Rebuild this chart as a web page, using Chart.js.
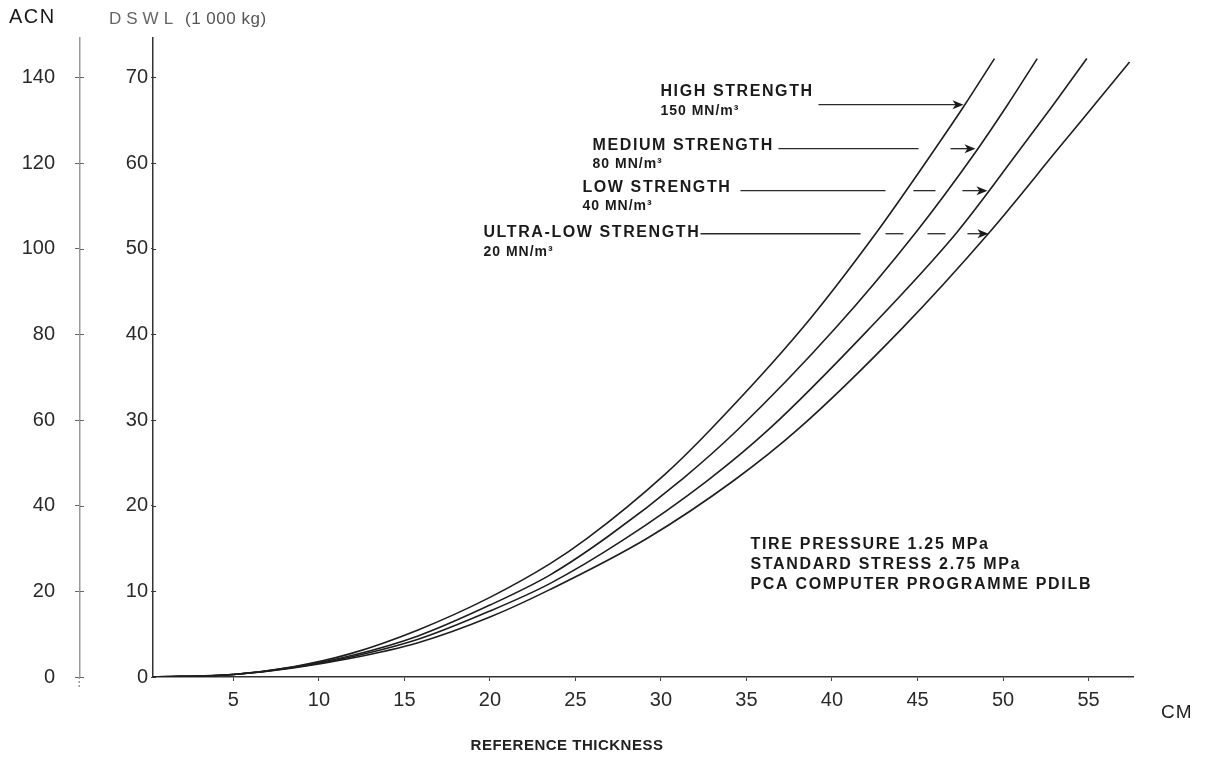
<!DOCTYPE html>
<html>
<head>
<meta charset="utf-8">
<script src="https://cdn.jsdelivr.net/npm/chart.js@4.4.1/dist/chart.umd.min.js"></script>
<style>
  html, body { margin: 0; padding: 0; background: #ffffff; }
  #wrap { width: 1217px; height: 761px; position: relative; }
</style>
</head>
<body>
<div id="wrap"><canvas id="c" width="1217" height="761"></canvas></div>
<script>
// ---- Data (reference thickness in cm, DSWL in 1 000 kg) ----
const thicknessHigh   = [0.3, 5, 8.5, 11.8, 15.8, 20, 23.5, 25.7, 30.2, 32.9, 38.3, 42.6, 45.9, 47.7, 49.5];
const dswlHigh        = [0, 0.3, 1.2, 2.7, 5.5, 9.3, 13.2, 16.2, 23.6, 28.9, 40.8, 51.9, 61.3, 66.6, 72.2];

const thicknessMedium = [0.3, 5, 8.5, 11.8, 15.8, 20, 23.5, 26.9, 31.3, 34.5, 40.1, 44.9, 48.4, 50.2, 52.0];
const dswlMedium      = [0, 0.3, 1.15, 2.45, 4.8, 8.4, 11.9, 16.4, 23.2, 28.9, 40.5, 51.9, 61.3, 66.6, 72.2];

const thicknessLow    = [0.3, 5, 8.5, 11.8, 15.8, 20, 23.5, 27.8, 32.7, 36.3, 42.1, 47.3, 51.0, 52.9, 54.9];
const dswlLow         = [0, 0.3, 1.1, 2.3, 4.4, 7.7, 10.9, 16.0, 22.9, 28.9, 40.5, 51.9, 61.6, 66.7, 72.2];

const thicknessUltra  = [0.3, 5, 8.5, 11.8, 15.8, 20, 23.5, 29.2, 34.3, 38.0, 44.0, 49.2, 53.2, 55.3, 57.4];
const dswlUltra       = [0, 0.3, 1.05, 2.15, 4.0, 7.0, 10.2, 16.2, 23.0, 28.9, 40.5, 51.9, 61.6, 66.7, 71.8];

const seriesNames = ['HIGH STRENGTH', 'MEDIUM STRENGTH', 'LOW STRENGTH', 'ULTRA-LOW STRENGTH'];
const seriesSubs  = ['150 MN/m³', '80 MN/m³', '40 MN/m³', '20 MN/m³'];

const xTicks    = [5, 10, 15, 20, 25, 30, 35, 40, 45, 50, 55];
const dswlTicks = [0, 10, 20, 30, 40, 50, 60, 70];
const acnTicks  = [0, 20, 40, 60, 80, 100, 120, 140];

const noteLines = ['TIRE PRESSURE 1.25 MPa', 'STANDARD STRESS 2.75 MPa', 'PCA COMPUTER PROGRAMME PDILB'];

// ---- helpers ----
const FONT = '"Liberation Sans", Arial, Helvetica, sans-serif';
function pts(xs, ys) { return xs.map((x, i) => ({ x: x, y: ys[i] })); }

// annotation layout (data coordinates: x in cm, row in DSWL)
const callouts = [
  { textX: 29.97, row: 66.82, dy: -13, segs: [[39.21, 47.69]] },
  { textX: 26.00, row: 61.68, dy: -3.5, segs: [[36.87, 45.06], [46.93, 48.39]] },
  { textX: 25.41, row: 56.78, dy: -3, segs: [[34.65, 43.13], [44.76, 46.05], [47.63, 49.09]] },
  { textX: 19.62, row: 51.75, dy: -1, segs: [[32.31, 41.67], [43.13, 44.18], [45.58, 46.64], [47.92, 49.15]] }
];

const decor = {
  id: 'decor',
  afterDraw(chart) {
    const ctx = chart.ctx;
    const sx = chart.scales.x, sy = chart.scales.y, sa = chart.scales.acn;
    ctx.save();
    // ACN axis: extend dotted line a little below zero, and cross ticks
    ctx.strokeStyle = '#9a9a9a';
    ctx.lineWidth = 1.5;
    ctx.setLineDash([2, 2]);
    ctx.beginPath(); ctx.moveTo(sa.right - 0.75, sa.bottom); ctx.lineTo(sa.right - 0.75, sa.bottom + 12); ctx.stroke();
    ctx.setLineDash([]);
    ctx.strokeStyle = '#666';
    ctx.lineWidth = 1;
    acnTicks.forEach(v => {
      const y = Math.round(sa.getPixelForValue(v)) + 0.5;
      ctx.beginPath(); ctx.moveTo(sa.right, y); ctx.lineTo(sa.right + 4, y); ctx.stroke();
    });
    // DSWL small inner ticks
    ctx.strokeStyle = '#333';
    dswlTicks.forEach(v => {
      const y = Math.round(sy.getPixelForValue(v)) + 0.5;
      ctx.beginPath(); ctx.moveTo(sy.right, y); ctx.lineTo(sy.right + 3, y); ctx.stroke();
    });

    // headers
    ctx.fillStyle = '#1a1a1a';
    ctx.textBaseline = 'middle';
    ctx.textAlign = 'left';
    ctx.letterSpacing = '1.5px';
    ctx.font = '20px ' + FONT;
    ctx.fillText('ACN', 9, 17);
    ctx.fillStyle = '#666';
    ctx.letterSpacing = '5px';
    ctx.font = '17px ' + FONT;
    ctx.fillText('DSWL', 109, 19);
    ctx.letterSpacing = '0.5px';
    ctx.fillStyle = '#555';
    ctx.font = '17px ' + FONT;
    ctx.fillText('(1 000 kg)', 185, 19);

    // axis unit and title
    ctx.fillStyle = '#222';
    ctx.letterSpacing = '1px';
    ctx.font = '19px ' + FONT;
    ctx.textAlign = 'left';
    ctx.fillText('CM', 1161, 713);
    ctx.font = 'bold 15px ' + FONT;
    ctx.letterSpacing = '0.5px';
    ctx.textAlign = 'center';
    ctx.fillText('REFERENCE THICKNESS', 567, 746);

    // callouts
    ctx.textAlign = 'left';
    ctx.fillStyle = '#1a1a1a';
    ctx.strokeStyle = '#2a2a2a';
    callouts.forEach((c, i) => {
      const rowY = sy.getPixelForValue(c.row);
      const tx = sx.getPixelForValue(c.textX);
      ctx.letterSpacing = '1.6px';
      ctx.font = 'bold 16px ' + FONT;
      ctx.fillText(seriesNames[i], tx, rowY + c.dy);
      ctx.letterSpacing = '1px';
      ctx.font = 'bold 14px ' + FONT;
      ctx.fillText(seriesSubs[i], tx, rowY + c.dy + 19);
      ctx.lineWidth = 1.3;
      c.segs.forEach((s, k) => {
        const x1 = sx.getPixelForValue(s[0]), x2 = sx.getPixelForValue(s[1]);
        const last = k === c.segs.length - 1;
        ctx.beginPath(); ctx.moveTo(x1, rowY); ctx.lineTo(last ? x2 - 6 : x2, rowY); ctx.stroke();
        if (last) {
          ctx.beginPath();
          ctx.moveTo(x2, rowY);
          ctx.lineTo(x2 - 11, rowY - 4.5);
          ctx.lineTo(x2 - 8, rowY);
          ctx.lineTo(x2 - 11, rowY + 4.5);
          ctx.closePath();
          ctx.fill();
        }
      });
    });

    // notes
    ctx.letterSpacing = '1.7px';
    ctx.font = 'bold 16px ' + FONT;
    const nx = sx.getPixelForValue(35.23);
    [15.42, 13.08, 10.75].forEach((v, i) => {
      ctx.fillText(noteLines[i], nx, sy.getPixelForValue(v));
    });
    ctx.restore();
  }
};

const lineStyle = {
  borderColor: '#1e1e1e',
  borderWidth: 1.6,
  pointRadius: 0,
  fill: false,
  cubicInterpolationMode: 'monotone',
  yAxisID: 'y'
};

new Chart(document.getElementById('c'), {
  type: 'line',
  data: {
    datasets: [
      Object.assign({ label: seriesNames[0], data: pts(thicknessHigh, dswlHigh) }, lineStyle),
      Object.assign({ label: seriesNames[1], data: pts(thicknessMedium, dswlMedium) }, lineStyle),
      Object.assign({ label: seriesNames[2], data: pts(thicknessLow, dswlLow) }, lineStyle),
      Object.assign({ label: seriesNames[3], data: pts(thicknessUltra, dswlUltra) }, lineStyle)
    ]
  },
  options: {
    responsive: false,
    animation: false,
    layout: { padding: { top: 38, right: 84, left: 0, bottom: 0 } },
    plugins: { legend: { display: false }, tooltip: { enabled: false }, title: { display: false } },
    scales: {
      x: {
        type: 'linear',
        min: 0.3, max: 57.6,
        afterBuildTicks: s => { s.ticks = xTicks.map(v => ({ value: v })); },
        afterFit: s => { s.height = 84; },
        grid: { display: true, drawOnChartArea: false, drawTicks: true, tickLength: 4, color: '#444' },
        border: { display: true, color: '#333', width: 1.5 },
        ticks: { font: { family: FONT, size: 20 }, color: '#2a2a2a', padding: 7, maxRotation: 0, autoSkip: false }
      },
      y: {
        type: 'linear',
        position: 'left',
        weight: 0,
        min: 0, max: 74.6,
        afterBuildTicks: s => { s.ticks = dswlTicks.map(v => ({ value: v })); },
        afterFit: s => { s.width = 73; },
        grid: { display: true, drawOnChartArea: false, drawTicks: true, tickLength: 2, color: '#444' },
        border: { display: true, color: '#333', width: 1.5 },
        ticks: { font: { family: FONT, size: 20 }, color: '#2a2a2a', padding: 3 }
      },
      acn: {
        type: 'linear',
        position: 'left',
        weight: 1,
        min: 0, max: 149.2,
        afterBuildTicks: s => { s.ticks = acnTicks.map(v => ({ value: v })); },
        afterFit: s => { s.width = 80; },
        grid: { display: true, drawOnChartArea: false, drawTicks: true, tickLength: 5, color: '#666' },
        border: { display: true, color: '#9a9a9a', width: 1.5, dash: [2, 2] },
        ticks: { font: { family: FONT, size: 20 }, color: '#2a2a2a', padding: 20 }
      }
    }
  },
  plugins: [decor]
});
</script>
</body>
</html>
